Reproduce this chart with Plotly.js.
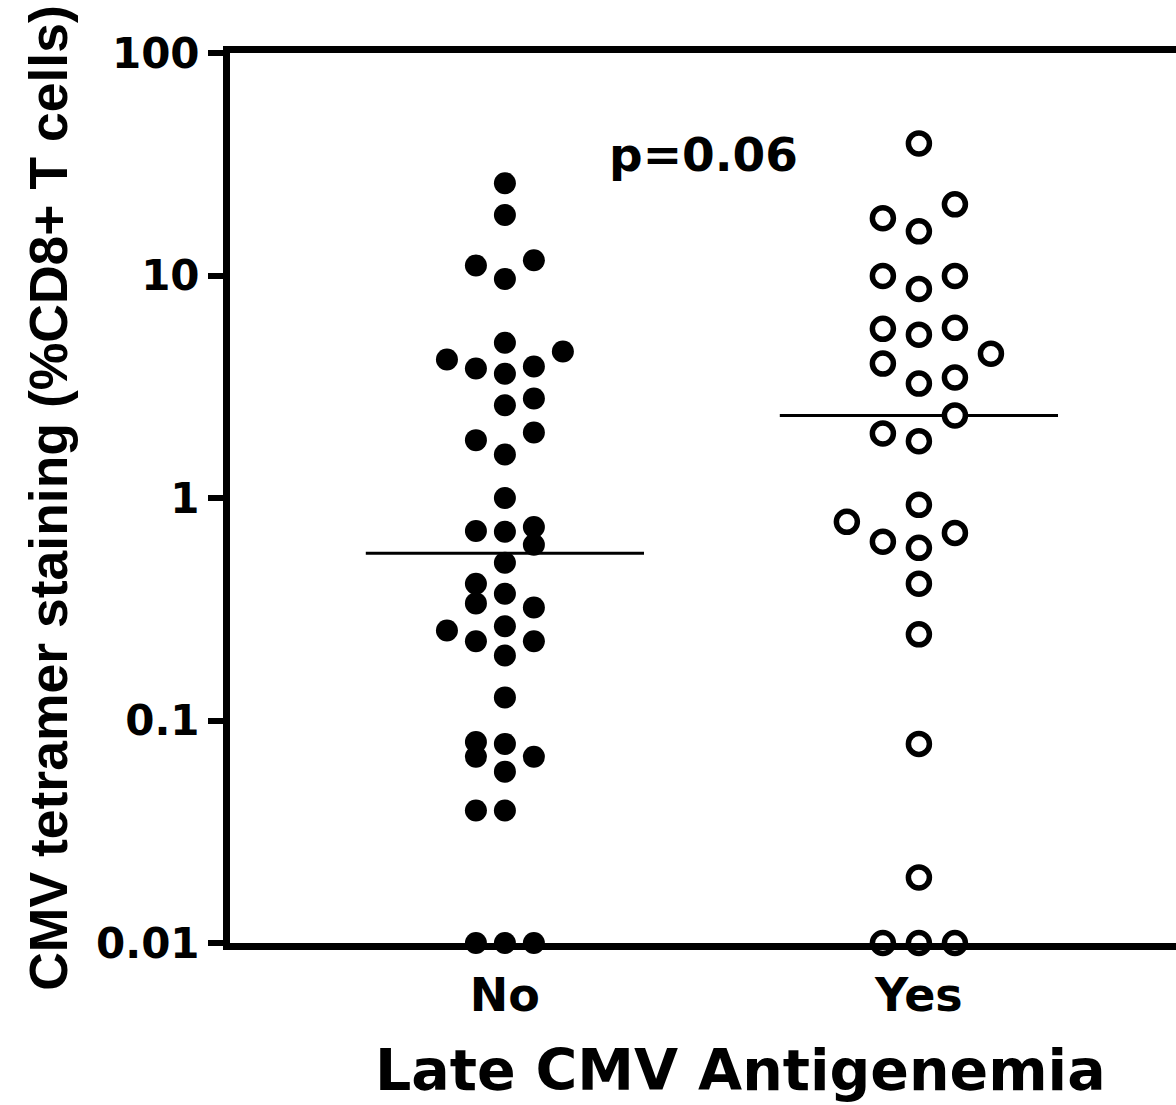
<!DOCTYPE html>
<html>
<head>
<meta charset="utf-8">
<script src="https://cdn.plot.ly/plotly-3.0.1.min.js"></script>
<style>
  html, body { margin: 0; padding: 0; background: #fff; }
  #chart { width: 1176px; height: 1105px; }
</style>
</head>
<body>
<div id="chart"></div>
<script>
// ---- Data ----
var categories = ['No', 'Yes'];

// Late CMV antigenemia = No (filled circles), % CD8+ T cells
var noValues = [26, 18.7, 11.1, 11.7, 9.65, 4.99, 4.19, 3.82, 3.62, 3.90, 4.55,
  2.61, 2.80, 1.82, 1.97, 1.57, 1.0, 0.711, 0.705, 0.741, 0.617, 0.512, 0.412,
  0.371, 0.336, 0.322, 0.254, 0.265, 0.227, 0.227, 0.196, 0.127, 0.080, 0.0687,
  0.0785, 0.0687, 0.0589, 0.0394, 0.0394, 0.01, 0.01, 0.01];
// column slot of each point in the dot-plot spread
var noSlots = [0, 0, -1, 1, 0, 0, -2, -1, 0, 1, 2,
  0, 1, -1, 1, 0, 0, -1, 0, 1, 1, 0, -1,
  0, -1, 1, -2, 0, -1, 1, 0, 0, -1, -1,
  0, 1, 0, -1, 0, -1, 0, 1];

// Late CMV antigenemia = Yes (open circles)
var yesValues = [39.2, 20.9, 18.1, 15.8, 9.95, 9.95, 8.70, 5.76, 5.42, 5.82, 4.45,
  4.02, 3.27, 3.48, 2.35, 1.95, 1.80, 0.932, 0.782, 0.636, 0.597, 0.697, 0.412,
  0.244, 0.0785, 0.0197, 0.01, 0.01, 0.01];
var yesSlots = [0, 1, -1, 0, -1, 1, 0, -1, 0, 1, 2,
  -1, 0, 1, 1, -1, 0, 0, -2, -1, 0, 1, 0,
  0, 0, 0, -1, 0, 1];

var yTickVals = [0.01, 0.1, 1, 10, 100];
var yTickText = ['0.01', '0.1', '1', '10', '100'];
var pValueText = 'p=0.06';
var xTitleText = 'Late CMV Antigenemia';
var yTitleText = 'CMV tetramer staining (%CD8+ T cells)';

// ---- helpers ----
function median(arr) {
  var s = arr.slice().sort(function (a, b) { return a - b; });
  var n = s.length;
  return n % 2 ? s[(n - 1) / 2] : (s[n / 2 - 1] + s[n / 2]) / 2;
}
var stepNo = 0.070, stepYes = 0.087, halfMed = 0.336;
var xNo = noSlots.map(function (s) { return 0 + s * stepNo; });
var xYes = yesSlots.map(function (s) { return 1 + s * stepYes; });
var medNo = median(noValues), medYes = median(yesValues);

var hFont = 'DejaVu Sans, Liberation Sans, Arial, sans-serif';

var traces = [
  { type: 'scatter', mode: 'lines', x: [0 - halfMed, 0 + halfMed], y: [medNo, medNo],
    line: { color: '#000', width: 3 }, hoverinfo: 'skip', showlegend: false },
  { type: 'scatter', mode: 'lines', x: [1 - halfMed, 1 + halfMed], y: [medYes, medYes],
    line: { color: '#000', width: 3 }, hoverinfo: 'skip', showlegend: false },
  { type: 'scatter', mode: 'markers', name: categories[0], x: xNo, y: noValues,
    marker: { symbol: 'circle', size: 22, color: '#000', line: { width: 0 } },
    cliponaxis: false, showlegend: false },
  { type: 'scatter', mode: 'markers', name: categories[1], x: xYes, y: yesValues,
    marker: { symbol: 'circle', size: 21, color: '#fff', line: { color: '#000', width: 5.5 } },
    cliponaxis: false, showlegend: false }
];

var layout = {
  width: 1176, height: 1105,
  margin: { l: 230, r: 0, t: 53, b: 162, pad: 0 },
  paper_bgcolor: '#fff', plot_bgcolor: '#fff',
  showlegend: false,
  font: { family: hFont, color: '#000' },
  xaxis: {
    range: [-0.664, 1.621],
    tickmode: 'array', tickvals: [0, 1], ticktext: categories,
    ticks: '', showgrid: false, zeroline: false,
    showline: true, mirror: true, linecolor: '#000', linewidth: 7,
    tickfont: { family: hFont, size: 46, color: '#000', weight: 'bold' },
    ticklabelstandoff: 6
  },
  yaxis: {
    type: 'log', range: [-2, 2],
    tickmode: 'array', tickvals: yTickVals, ticktext: yTickText,
    ticks: 'outside', ticklen: 15, tickwidth: 6, tickcolor: '#000',
    showgrid: false, zeroline: false,
    showline: true, mirror: false, linecolor: '#000', linewidth: 7,
    tickfont: { family: hFont, size: 42, color: '#000', weight: 'bold' },
    title: { text: yTitleText,
      font: { family: 'Liberation Sans, Arial, sans-serif', size: 53.5, color: '#000', weight: 'bold' }, standoff: 14 }
  },
  annotations: [
    { x: 0.48, y: Math.log10(35), xref: 'x', yref: 'y', text: pValueText,
      showarrow: false, font: { family: hFont, size: 47, color: '#000', weight: 'bold' },
      xanchor: 'center', yanchor: 'middle' },
    { x: 0.568, y: 1070, xref: 'x', yref: 'paper', text: xTitleText,
      showarrow: false, font: { family: hFont, size: 57, color: '#000', weight: 'bold' },
      xanchor: 'center', yanchor: 'middle' }
  ]
};
// x title annotation: place in pixel terms below plot (paper coords)
var plotH = 1105 - 53 - 162;
layout.annotations[1].y = -(1070 - (1105 - 162)) / plotH;

Plotly.newPlot('chart', traces, layout, { displayModeBar: false, staticPlot: true });
</script>
</body>
</html>
